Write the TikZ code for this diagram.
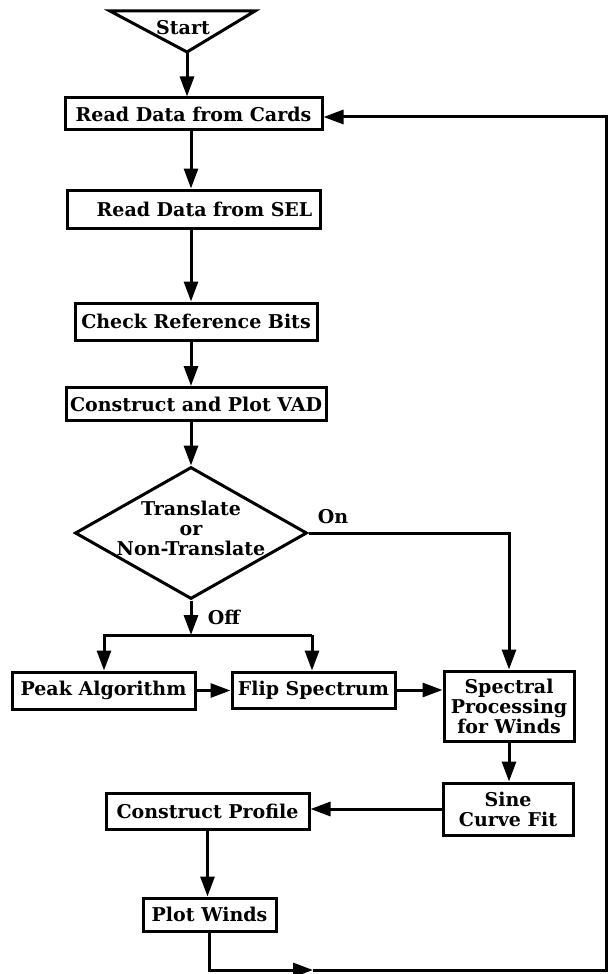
\documentclass[tikz,border=0pt]{standalone}
\usepackage{fontspec}
\setmainfont{DejaVu Serif}
\usetikzlibrary{arrows.meta, shapes.geometric}

\begin{document}
\begin{tikzpicture}[x=0.5pt, y=-0.5pt, line width=1.5pt,
        font=\fontsize{9.5}{10}\selectfont\bfseries,
        box/.style={draw=black, fill=white, inner sep=0pt, align=center},
        arr/.style={-{Triangle[length=10pt,width=7pt]}}]
        \useasboundingbox (0,0) rectangle (608,974);

        % \tikzset{point/.style={circle,draw,fill=white,inner sep=1.5pt}}
        \coordinate (apex) at (187,52);
        \coordinate (spine) at (191,0);
        \draw[black] (110,11) -- (255,11) -- (apex) -- cycle;
        \node (start) at (183,28) {Start};

        \node[box, minimum width=128.5pt, minimum height=16pt] (rdc) at (193.5,114) {Read Data from Cards};
        \node[box, minimum width=126.5pt, minimum height=19pt] (rsel) at (193.5,209) {\hspace{11pt}Read Data from SEL};
        \node[box, minimum width=121pt, minimum height=18.5pt] (crb) at (196,321.5) {Check Reference Bits};
        \node[box, minimum width=130pt, minimum height=16.5pt] (cpv) at (196,404) {Construct and Plot VAD};

        \node[box, diamond, minimum width=116pt, minimum height=66pt] (dia) at (191,533) {};
        \node[align=center] (dialbl) at (191,528) {Translate\\or\\Non-Translate};
        \node (on) at (333,517) {On};
        \node (off) at (224,617) {Off};

        \node[box, minimum width=91.5pt, minimum height=18.5pt] (pa) at (103.5,690.5) {Peak Algorithm};
        \node[box, minimum width=81.5pt, minimum height=18pt] (fs) at (313.5,690) {Flip Spectrum};
        \node[box, minimum width=65pt, minimum height=35pt] (sp) at (509,706) {Spectral\\Processing\\for Winds};
        \node[box, minimum width=65pt, minimum height=26pt] (scf) at (508,809) {Sine\\Curve Fit};
        \node[box, minimum width=101.5pt, minimum height=18pt] (cp) at (207.5,811) {Construct Profile};
        \node[box, minimum width=66.5pt, minimum height=16.5pt] (pw) at (209.5,914.5) {Plot Winds};

        \coordinate (brL) at (104,635);
        \coordinate (brR) at (312,635);
        \coordinate (retmid) at (313,970);
        \coordinate (retbr) at (606,970);
        \coordinate (rettr) at (606,117);

        \draw[arr] (apex) -- (rdc.north -| apex);
        \draw[arr] (rdc.south -| spine) -- (rsel.north -| spine);
        \draw[arr] (rsel.south -| spine) -- (crb.north -| spine);
        \draw[arr] (crb.south -| spine) -- (cpv.north -| spine);
        \draw[arr] (cpv.south -| spine) -- (dia.north);
        \draw[arr] (dia.south) -- (dia.south |- brL);
        \draw[arr] (brR) -- (brL) -- (brL |- pa.north);
        \draw[arr] (brR) -- (brR |- fs.north);
        \draw[arr] (dia.east) -| (sp.north);
        \draw[arr] (pa.east) -- (pa.east -| fs.west);
        \draw[arr] (fs.east) -- (fs.east -| sp.west);
        \draw[arr] (sp.south) -- (sp.south |- scf.north);
        \draw[arr] (scf.west) -- (scf.west -| cp.east);
        \draw[arr] (cp.south) -- (cp.south |- pw.north);
        \draw[arr] (pw.south) |- (retmid);
        \draw[arr] (retmid) -- (retbr) -- (rettr) -- (rettr -| rdc.east);
    \end{tikzpicture}
\end{document}
